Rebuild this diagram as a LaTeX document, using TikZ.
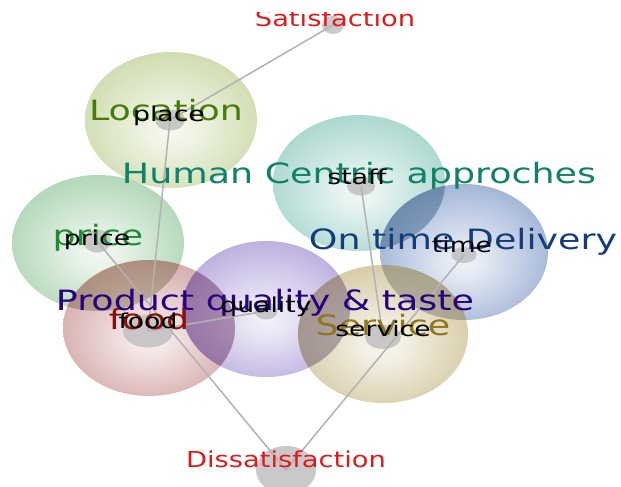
\documentclass[tikz,border=0pt]{standalone}
\usepackage{fontspec}
\setmainfont{DejaVu Sans}
\usetikzlibrary{shapes.geometric}

% rim colours of the clusters
\definecolor{rimLoc}{RGB}{165,190,105}
\definecolor{rimPrice}{RGB}{110,180,118}
\definecolor{rimFood}{RGB}{180,100,100}
\definecolor{rimQual}{RGB}{128,105,195}
\definecolor{rimServ}{RGB}{180,158,88}
\definecolor{rimStaff}{RGB}{95,180,165}
\definecolor{rimTime}{RGB}{80,115,180}
% shades where two clusters overlap
\definecolor{ovPF}{RGB}{100,80,40}
\definecolor{ovFQ}{RGB}{90,30,90}
\definecolor{ovQS}{RGB}{80,60,90}
\definecolor{ovST}{RGB}{30,70,110}
\definecolor{ovTS}{RGB}{90,90,80}
\definecolor{ovLP}{RGB}{60,90,40}
% label colours
\definecolor{txLoc}{RGB}{70,125,10}
\definecolor{txPrice}{RGB}{30,140,50}
\definecolor{txFood}{RGB}{140,15,15}
\definecolor{txQual}{RGB}{40,0,130}
\definecolor{txServ}{RGB}{145,118,25}
\definecolor{txStaff}{RGB}{15,130,105}
\definecolor{txTime}{RGB}{20,60,125}
\definecolor{txOut}{RGB}{225,25,25}
\definecolor{nodegray}{RGB}{192,192,192}
\definecolor{edgegray}{RGB}{178,178,178}

\colorlet{clustcol}{white}
\pgfdeclareradialshading[clustcol]{cluster}{\pgfpoint{0bp}{-4bp}}{%
  color(0bp)=(clustcol!12!white); color(6bp)=(clustcol!20!white);
  color(30bp)=(clustcol!72!white); color(50bp)=(clustcol)}

\newcommand\stretchbig[1]{\scalebox{1.3}[1]{#1}}
\newcommand\stretchout[1]{\scalebox{1.24}[1]{#1}}
% darken the part of cluster #4 (radii #5,#6) lying inside cluster #1 (radii #2,#3)
\newcommand\overlapdark[8]{%
  \begin{scope}
    \path[clip] (#1.center) ellipse [x radius=#2, y radius=#3];
    \fill[#7, fill opacity=#8] (#4.center) ellipse [x radius=#5, y radius=#6];
  \end{scope}}

\tikzset{
  cluster/.style={ellipse, inner sep=0pt, shade, shading=cluster,
    fill opacity=0.8, /utils/exec={\colorlet{clustcol}{#1}},
    minimum width=172pt, minimum height=136pt},
  dot/.style={ellipse, inner sep=0pt, fill=nodegray, fill opacity=0.85},
  edge/.style={draw=edgegray, line width=1.5pt},
  biglabel/.style={anchor=base, inner sep=0pt, font=\fontsize{28}{30}\selectfont},
  smalllabel/.style={anchor=base, inner sep=0pt, text=black,
    font=\fontsize{20.5}{22}\selectfont},
  outlabel/.style={anchor=base, inner sep=0pt, text=txOut,
    font=\fontsize{22}{24}\selectfont}
}

\begin{document}
\begin{tikzpicture}[x=1pt, y=-1pt]
\useasboundingbox (0,0) rectangle (621,487);
\begin{scope}
\clip (0,13) rectangle (621,487);

% clusters
\node[cluster=rimLoc]   (gLocation) at (171,120) {};
\node[cluster=rimPrice] (gPrice)    at (98,243)  {};
\node[cluster=rimStaff] (gStaff)    at (359,183) {};
\node[cluster=rimTime, minimum width=168pt] (gTime) at (464,252) {};
\node[cluster=rimFood]  (gFood)     at (149,328) {};
\node[cluster=rimQual, minimum width=168pt] (gQual) at (266,309) {};
\node[cluster=rimServ, minimum width=170pt, minimum height=138pt] (gServ) at (383,334) {};

% overlaps
\overlapdark{gLocation}{86pt}{68pt}{gPrice}{86pt}{68pt}{ovLP}{0.25}
\overlapdark{gPrice}{86pt}{68pt}{gFood}{86pt}{68pt}{ovPF}{0.3}
\overlapdark{gFood}{86pt}{68pt}{gQual}{84pt}{68pt}{ovFQ}{0.38}
\overlapdark{gQual}{84pt}{68pt}{gServ}{85pt}{69pt}{ovQS}{0.35}
\overlapdark{gStaff}{86pt}{68pt}{gTime}{84pt}{68pt}{ovST}{0.35}
\overlapdark{gTime}{84pt}{68pt}{gServ}{85pt}{69pt}{ovTS}{0.3}

% term nodes
\node[dot, minimum width=22pt, minimum height=18pt] (nSat)     at (333,25)  {};
\node[dot, minimum width=60pt, minimum height=48pt] (nDis)     at (286,470) {};
\node[dot, minimum width=30pt, minimum height=21pt] (nPlace)   at (170,120) {};
\node[dot, minimum width=28pt, minimum height=23pt] (nPrice)   at (97,241)  {};
\node[dot, minimum width=50pt, minimum height=33pt] (nFood)    at (148,331) {};
\node[dot, minimum width=23pt, minimum height=17pt] (nQuality) at (266,311) {};
\node[dot, minimum width=28pt, minimum height=19pt] (nStaff)   at (361,186) {};
\node[dot, minimum width=25pt, minimum height=16pt] (nTime)    at (464,255) {};
\node[dot, minimum width=36pt, minimum height=24pt] (nService) at (383,337) {};

% links
\draw[edge] (nSat.center)   -- (nPlace.center);
\draw[edge] (nPlace.center) -- (nFood.center);
\draw[edge] (nFood.center)  -- (nQuality.center);
\draw[edge] (nPrice.center) -- (nDis.center);
\draw[edge] (nTime.center)  -- (nDis.center);
\draw[edge] (nStaff.center) -- (nService.center);

% cluster labels
\node[biglabel, text=txLoc]   (lLocation) at (166,120) {\stretchbig{Location}};
\node[biglabel, text=txPrice] (lPrice)    at (98,245)  {\stretchbig{price}};
\node[biglabel, text=txStaff] (lStaff)    at (359,183) {\stretchbig{Human Centric approches}};
\node[biglabel, text=txTime]  (lTime)     at (463,249) {\stretchbig{On time Delivery}};
\node[biglabel, text=txFood]  (lFood)     at (149,329) {\stretchbig{food}};
\node[biglabel, text=txQual]  (lQual)     at (265,310) {\stretchbig{Product quality \& taste}};
\node[biglabel, text=txServ]  (lServ)     at (383,335) {\stretchbig{Service}};

% term labels
\node[smalllabel] (tPlace)   at (169,121) {\stretchbig{place}};
\node[smalllabel] (tPrice)   at (97,245)  {\stretchbig{price}};
\node[smalllabel] (tStaff)   at (357,184) {\stretchbig{staff}};
\node[smalllabel] (tTime)    at (462,252) {\stretchbig{time}};
\node[smalllabel] (tFood)    at (148,328) {\stretchbig{food}};
\node[smalllabel] (tQuality) at (266,312) {\stretchbig{quality}};
\node[smalllabel] (tService) at (383,336) {\stretchbig{service}};

% outcome labels
\node[outlabel] (tSat) at (335,27)  {\stretchout{Satisfaction}};
\node[outlabel] (tDis) at (286,467) {\stretchout{Dissatisfaction}};
\end{scope}
\end{tikzpicture}
\end{document}
